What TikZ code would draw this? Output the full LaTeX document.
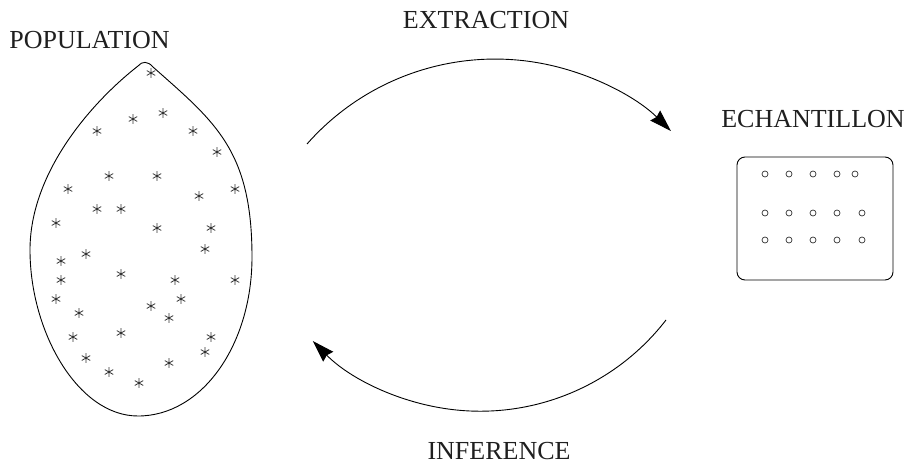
\documentclass[tikz,border=0pt]{standalone}
\usepackage{fontspec}
\setmainfont{Liberation Serif}
\usetikzlibrary{arrows.meta}
\begin{document}
\begin{tikzpicture}[x=1pt,y=-1pt,
  lbl/.style={anchor=base,inner sep=0pt,font=\fontsize{26}{26}\selectfont,text=black!88},
  outline/.style={line width=0.9pt},
  astk/.pic={\draw[line width=0.8pt,black!80] (0,-4.8)--(0,4.8) (-4.2,-2.4)--(4.2,2.4) (-4.2,2.4)--(4.2,-2.4);},
  dot/.style={circle,draw,line width=0.7pt,minimum size=6pt,inner sep=0pt,black!80},
  flow/.style={line width=0.9pt,-{Stealth[length=22pt,width=14pt,inset=2pt]}}]
\useasboundingbox (0,0) rectangle (911,466);

% labels
\node[lbl] (pop) at (89.5,48) {POPULATION};
\node[lbl] (ext) at (486,28) {EXTRACTION};
\node[lbl] (ech) at (813,127) {ECHANTILLON};
\node[lbl] (inf) at (499,459) {INFERENCE};

% population shape
\draw[outline] (138,66) .. controls (142,61) and (148,61) .. (153,67)
  .. controls (215,122) and (252,150) .. (252,257)
  .. controls (252,345) and (202,416) .. (138,416)
  .. controls (78,416) and (30,332) .. (30,250)
  .. controls (30,172) and (92,102) .. (138,66) -- cycle;

% asterisks
\foreach \p in {(151,73),(163,113),(133,119),(97,131),(193,131),(217,152),
  (109,176),(157,176),(68,189),(235,189),(199,196),(97,209),(121,209),
  (56,223),(157,228),(211,228),(205,249),(86,254),(61,261),(121,274),
  (61,280),(175,280),(235,280),(56,299),(181,299),(151,306),(79,313),
  (169,318),(121,333),(73,337),(211,337),(205,352),(86,358),(169,363),
  (109,372),(139,383)}
  \pic at \p {astk};

% sample box
\draw[outline,rounded corners=8pt] (737,157) rectangle (893,280);
\foreach \x in {765,789,813,837,855} \node[dot] at (\x,174) {};
\foreach \y in {213,240} \foreach \x in {765,789,813,837,862} \node[dot] at (\x,\y) {};

% arrows
\coordinate (a1) at (307,144);
\coordinate (a2) at (666,320);
\draw[flow] (a1) arc[start angle=138.6,end angle=45.5,radius=250.8pt];
\draw[flow] (a2) arc[start angle=-37.7,end angle=-135.5,radius=234.8pt];
\end{tikzpicture}
\end{document}
